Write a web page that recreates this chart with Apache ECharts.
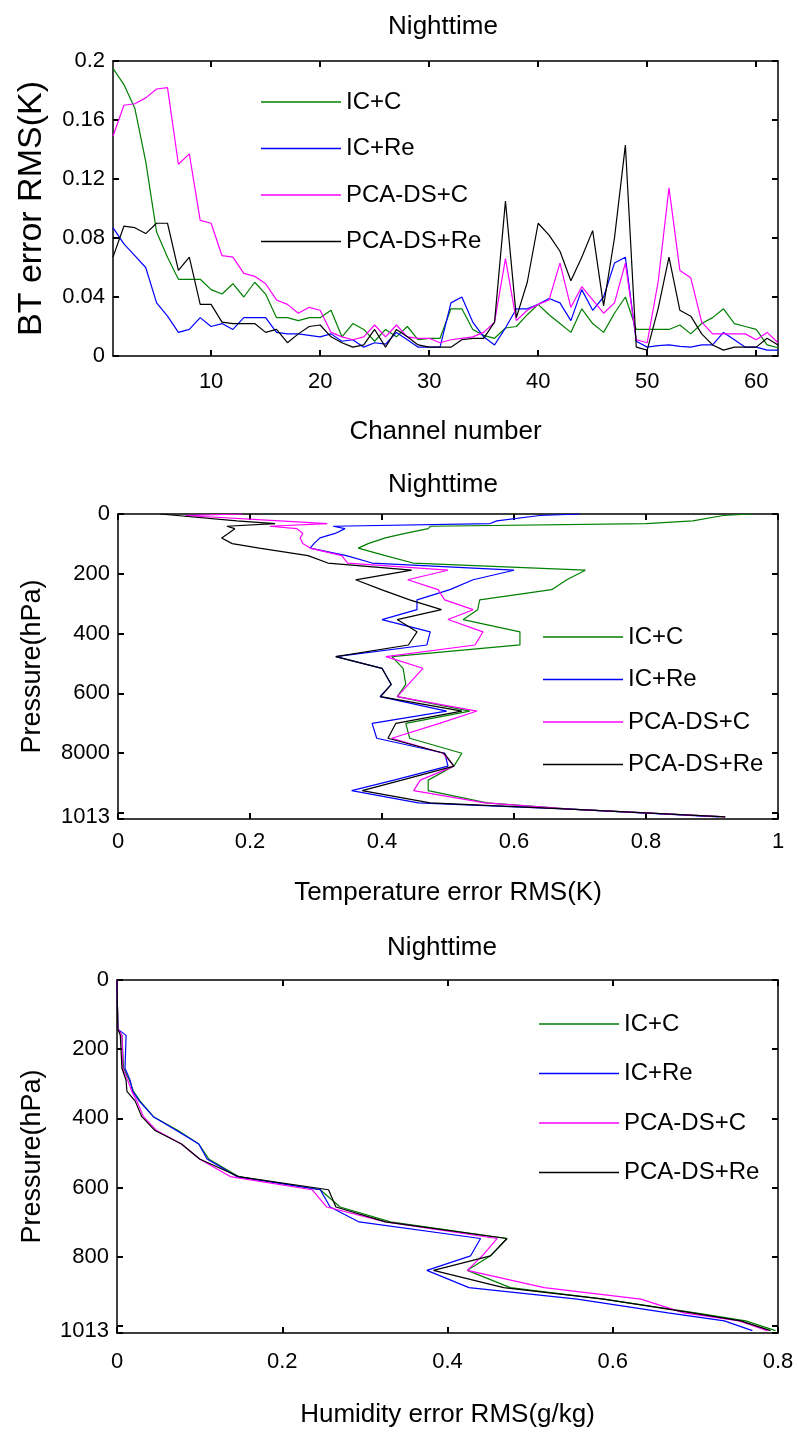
<!DOCTYPE html>
<html>
<head>
<meta charset="utf-8">
<script src="https://cdn.jsdelivr.net/npm/echarts@6/dist/echarts.min.js"></script>
<style>html,body{margin:0;padding:0;background:#fff}#c{width:798px;height:1438px}</style>
</head>
<body>
<div id="c"></div>
<script>
// ---------- DATA ----------
const seriesNames = ['IC+C', 'IC+Re', 'PCA-DS+C', 'PCA-DS+Re'];
const seriesColors = ['#008000', '#0000ff', '#ff00ff', '#000000'];

// Chart 1: BT error RMS per channel (channels 1..62)
const channels = [1,2,3,4,5,6,7,8,9,10,11,12,13,14,15,16,17,18,19,20,21,22,23,24,25,26,27,28,29,30,31,32,33,34,35,36,37,38,39,40,41,42,43,44,45,46,47,48,49,50,51,52,53,54,55,56,57,58,59,60,61,62];
const btIcC = [0.195,0.184,0.168,0.132,0.084,0.067,0.052,0.052,0.052,0.045,0.042,0.049,0.040,0.050,0.042,0.026,0.026,0.024,0.026,0.026,0.031,0.013,0.022,0.018,0.010,0.018,0.013,0.020,0.011,0.012,0.012,0.032,0.032,0.018,0.014,0.012,0.019,0.020,0.028,0.035,0.028,0.022,0.016,0.032,0.022,0.016,0.029,0.040,0.018,0.018,0.018,0.018,0.021,0.015,0.022,0.026,0.032,0.022,0.020,0.018,0.0075,0.0056];
const btIcRe = [0.087,0.076,0.068,0.060,0.036,0.027,0.016,0.018,0.026,0.020,0.022,0.018,0.026,0.026,0.026,0.016,0.015,0.015,0.014,0.013,0.015,0.010,0.011,0.006,0.009,0.008,0.016,0.011,0.006,0.006,0.006,0.036,0.040,0.023,0.013,0.0075,0.019,0.032,0.032,0.035,0.039,0.036,0.024,0.045,0.031,0.040,0.063,0.067,0.010,0.006,0.007,0.0075,0.0065,0.006,0.0075,0.0075,0.016,0.011,0.006,0.006,0.004,0.004];
const btPcaC = [0.149,0.170,0.171,0.175,0.181,0.182,0.130,0.137,0.092,0.090,0.068,0.067,0.056,0.054,0.049,0.038,0.035,0.029,0.033,0.031,0.016,0.013,0.011,0.013,0.021,0.013,0.021,0.013,0.012,0.012,0.009,0.011,0.012,0.013,0.016,0.023,0.066,0.024,0.031,0.035,0.038,0.063,0.033,0.047,0.038,0.029,0.036,0.063,0.011,0.009,0.050,0.114,0.058,0.053,0.023,0.015,0.015,0.015,0.015,0.011,0.016,0.009];
const btPcaRe = [0.067,0.088,0.087,0.083,0.090,0.090,0.058,0.067,0.035,0.035,0.023,0.022,0.022,0.022,0.016,0.018,0.009,0.015,0.020,0.021,0.013,0.009,0.006,0.0075,0.018,0.006,0.018,0.013,0.0075,0.006,0.006,0.006,0.011,0.012,0.012,0.023,0.105,0.026,0.050,0.090,0.082,0.071,0.051,0.067,0.085,0.034,0.080,0.143,0.006,0.004,0.032,0.067,0.031,0.027,0.015,0.0075,0.004,0.006,0.006,0.006,0.012,0.0075];
const btXTicks = [10,20,30,40,50,60];
const btYTicks = [0,0.04,0.08,0.12,0.16,0.2];
const btYTickLabels = ['0','0.04','0.08','0.12','0.16','0.2'];

// Chart 2: temperature error RMS vs pressure
const tempLevels = [0,5,23,32,41,49,65,80,99,114,139,164,188,220,253,287,320,353,394,438,477,516,570,611,659,700,750,800,843,890,925,966,987,1013];
const tIcC = [0.96,0.917,0.871,0.80,0.473,0.47,0.435,0.405,0.379,0.364,0.405,0.447,0.708,0.68,0.657,0.548,0.545,0.523,0.609,0.609,0.415,0.432,0.436,0.423,0.533,0.436,0.442,0.521,0.509,0.47,0.47,0.559,0.685,0.92];
const tIcRe = [0.70,0.639,0.574,0.564,0.326,0.344,0.329,0.306,0.297,0.291,0.346,0.385,0.60,0.538,0.503,0.453,0.453,0.40,0.473,0.468,0.33,0.40,0.414,0.397,0.498,0.385,0.392,0.495,0.50,0.418,0.354,0.455,0.685,0.91];
const tPcaC = [0.188,0.102,0.245,0.317,0.23,0.271,0.28,0.276,0.28,0.291,0.339,0.348,0.50,0.439,0.485,0.495,0.538,0.50,0.553,0.541,0.406,0.462,0.44,0.423,0.544,0.487,0.415,0.492,0.509,0.458,0.448,0.556,0.685,0.92];
const tPcaRe = [0.064,0.067,0.18,0.238,0.165,0.177,0.167,0.157,0.173,0.214,0.288,0.318,0.445,0.36,0.399,0.442,0.49,0.423,0.453,0.44,0.33,0.40,0.414,0.398,0.521,0.421,0.409,0.494,0.509,0.43,0.37,0.473,0.685,0.92];
const tempXTicks = [0,0.2,0.4,0.6,0.8,1];
const tempYTicks = [0,200,400,600,800,1013];
const tempYTickLabels = ['0','200','400','600','8000','1013'];

// Chart 3: humidity error RMS vs pressure
const humLevels = [0,142,160,255,290,322,350,395,435,474,517,568,606,656,699,747,797,839,889,922,962,985,1013];
const hIcC = [0,0.001,0.006,0.008,0.015,0.020,0.028,0.044,0.074,0.099,0.111,0.147,0.246,0.270,0.331,0.472,0.452,0.424,0.476,0.589,0.70,0.761,0.797];
const hIcRe = [0,0.001,0.011,0.0097,0.016,0.019,0.027,0.044,0.072,0.099,0.109,0.145,0.246,0.258,0.293,0.44,0.428,0.375,0.426,0.557,0.667,0.735,0.769];
const hPcaC = [0,0.001,0.006,0.007,0.013,0.018,0.024,0.032,0.048,0.078,0.10,0.137,0.236,0.254,0.325,0.46,0.442,0.424,0.517,0.634,0.686,0.753,0.787];
const hPcaRe = [0,0.001,0.004,0.006,0.011,0.012,0.022,0.03,0.046,0.078,0.10,0.147,0.256,0.265,0.325,0.472,0.452,0.383,0.468,0.589,0.696,0.755,0.791];
const humXTicks = [0,0.2,0.4,0.6,0.8];
const humYTicks = [0,200,400,600,800,1013];
const humYTickLabels = ['0','200','400','600','800','1013'];

// ---------- CHART ----------
const FONT = "'Liberation Sans',Arial,sans-serif";
const black = '#000';
const tickFont = 22;

function axisLine() { return { show: true, onZero: false, lineStyle: { color: black, width: 1.5 } }; }
function ticks(vals) {
  const t = { show: true, inside: true, length: 6, lineStyle: { color: black, width: 2 } };
  if (vals) t.customValues = vals;
  return t;
}
function finder(tickVals, labels) {
  return v => { const i = tickVals.findIndex(t => Math.abs(t - v) < 1e-9); return i >= 0 ? labels[i] : ''; };
}

// axis pair (bottom + mirrored top) for each grid
function xAxes(grid, min, max, interval, tickVals, labels, name, margin, nameGap) {
  const mk = () => {
    const a = { gridIndex: grid, type: 'value', min, max, splitLine: { show: false }, axisLine: axisLine(),
      axisTick: interval ? ticks() : ticks(tickVals) };
    if (interval) a.interval = interval;
    return a;
  };
  return [
    Object.assign(mk(), { position: 'bottom',
      axisLabel: { customValues: tickVals, formatter: finder(tickVals, labels), color: black, fontSize: tickFont, fontFamily: FONT, margin },
      name, nameLocation: 'middle', nameGap,
      nameTextStyle: { color: black, fontSize: 26, fontFamily: FONT } }),
    Object.assign(mk(), { position: 'top', axisLabel: { show: false } })
  ];
}
function yAxes(grid, min, max, interval, inverse, tickVals, labels, name, nameSize, nameGap) {
  const mk = () => ({ gridIndex: grid, type: 'value', min, max, interval, inverse, splitLine: { show: false },
    axisLine: axisLine(), axisTick: ticks() });
  return [
    Object.assign(mk(), { position: 'left',
      axisLabel: { customValues: tickVals, formatter: finder(tickVals, labels), color: black, fontSize: tickFont, fontFamily: FONT, margin: 8 },
      name, nameLocation: 'middle', nameGap,
      nameTextStyle: { color: black, fontSize: nameSize, fontFamily: FONT } }),
    Object.assign(mk(), { position: 'right', axisLabel: { show: false } })
  ];
}

const btData = [btIcC, btIcRe, btPcaC, btPcaRe];
const tData = [tIcC, tIcRe, tPcaC, tPcaRe];
const hData = [hIcC, hIcRe, hPcaC, hPcaRe];

const series = [];
seriesNames.forEach((nm, k) => {
  series.push({ name: nm, type: 'line', xAxisIndex: 0, yAxisIndex: 0, showSymbol: false, animation: false,
    lineStyle: { color: seriesColors[k], width: 1.2 }, itemStyle: { color: seriesColors[k] },
    data: channels.map((c, i) => [c, btData[k][i]]) });
});
seriesNames.forEach((nm, k) => {
  series.push({ name: nm, type: 'line', xAxisIndex: 2, yAxisIndex: 2, showSymbol: false, animation: false,
    lineStyle: { color: seriesColors[k], width: 1.2 }, itemStyle: { color: seriesColors[k] },
    data: tempLevels.map((p, i) => [tData[k][i], p]) });
});
seriesNames.forEach((nm, k) => {
  series.push({ name: nm, type: 'line', xAxisIndex: 4, yAxisIndex: 4, showSymbol: false, animation: false,
    lineStyle: { color: seriesColors[k], width: 1.2 }, itemStyle: { color: seriesColors[k] },
    data: humLevels.map((p, i) => [hData[k][i], p]) });
});

function legend(left, top, gap) {
  return { show: true, data: seriesNames, orient: 'vertical', left, top, icon: 'rect',
    itemWidth: 80, itemHeight: 1.5, itemGap: gap, selectedMode: false,
    textStyle: { color: black, fontSize: 24, fontFamily: FONT, lineHeight: 26 } };
}
function title(x, top) {
  return { text: 'Nighttime', left: x, top, textAlign: 'center',
    textStyle: { color: black, fontSize: 26, fontWeight: 'normal', fontFamily: FONT } };
}

const option = {
  backgroundColor: '#fff',
  animation: false,
  title: [title(438, 9), title(438, 467), title(437, 930)],
  legend: [legend(256, 84, 20.5), legend(538, 619, 16.5), legend(534, 1006, 23.5)],
  grid: [
    { left: 113, right: 20, top: 61, height: 295 },
    { left: 118, right: 20, top: 514, height: 305 },
    { left: 117, right: 20, top: 980, height: 353 }
  ],
  xAxis: [
    ...xAxes(0, 1, 62, null, btXTicks, btXTicks.map(String), 'Channel number', 15, 63),
    ...xAxes(1, 0, 1, 0.2, tempXTicks, tempXTicks.map(String), 'Temperature error RMS(K)', 12, 61),
    ...xAxes(2, 0, 0.8, 0.2, humXTicks, humXTicks.map(String), 'Humidity error RMS(g/kg)', 18, 69)
  ],
  yAxis: [
    ...yAxes(0, 0, 0.2, 0.04, false, btYTicks, btYTickLabels, 'BT error RMS(K)', 34, 64),
    ...yAxes(1, 0, 1020, 200, true, tempYTicks, tempYTickLabels, 'Pressure(hPa)', 27, 72),
    ...yAxes(2, 0, 1020, 200, true, humYTicks, humYTickLabels, 'Pressure(hPa)', 27, 71)
  ],
  series
};
const chart = echarts.init(document.getElementById('c'), null, { renderer: 'canvas' });
chart.setOption(option);
</script>
</body>
</html>
